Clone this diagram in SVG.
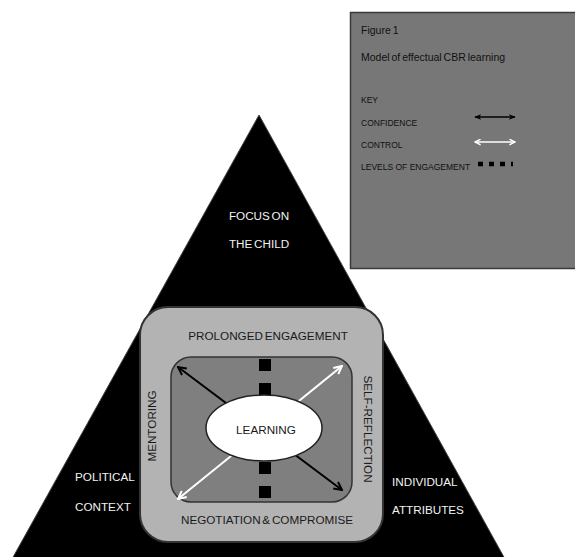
<svg xmlns="http://www.w3.org/2000/svg" width="575" height="557" viewBox="0 0 575 557">
<style>
text{font-family:"Liberation Sans",Arial,sans-serif}
.wt{fill:#f2f2f2;font-size:11.7px;word-spacing:-1.5px}
.dk{fill:#1a1a1a;font-size:11.7px;word-spacing:-1.5px}
.lg{fill:#111;font-size:8.5px}
.lt{fill:#111;font-size:10.5px;word-spacing:-1px}
.blk{stroke:#000;stroke-width:2;fill:none}
.wht{stroke:#fff;stroke-width:2;fill:none}
</style>
<defs>
<marker id="ab" viewBox="0 0 10 10" refX="9" refY="5" markerWidth="10" markerHeight="10" markerUnits="userSpaceOnUse" orient="auto-start-reverse">
<path d="M1,1 L9,5 L1,9" fill="none" stroke="#000" stroke-width="2"/>
</marker>
<marker id="aw" viewBox="0 0 10 10" refX="9" refY="5" markerWidth="10" markerHeight="10" markerUnits="userSpaceOnUse" orient="auto-start-reverse">
<path d="M1,1 L9,5 L1,9" fill="none" stroke="#fff" stroke-width="2"/>
</marker>
<marker id="sb" viewBox="0 0 10 10" refX="9" refY="5" markerWidth="7" markerHeight="7" markerUnits="userSpaceOnUse" orient="auto-start-reverse">
<path d="M0,1 L10,5 L0,9 L3,5 Z" fill="#000"/>
</marker>
<marker id="sw" viewBox="0 0 10 10" refX="9" refY="5" markerWidth="7" markerHeight="7" markerUnits="userSpaceOnUse" orient="auto-start-reverse">
<path d="M1,1 L9,5 L1,9" fill="none" stroke="#fff" stroke-width="2"/>
</marker>
</defs>
<rect width="575" height="557" fill="#fff"/>
<g id="legend">
<rect x="350.5" y="12.5" width="230" height="256" fill="#777" stroke="#3a3a3a" stroke-width="1.5"/>
<text class="lt" x="361" y="34">Figure 1</text>
<text class="lt" x="361" y="61">Model of effectual CBR learning</text>
<text class="lg" x="361" y="103">KEY</text>
<text class="lg" x="361" y="126">CONFIDENCE</text>
<text class="lg" x="361" y="148">CONTROL</text>
<text class="lg" x="361" y="170">LEVELS  OF ENGAGEMENT</text>
<line x1="475" y1="117" x2="515" y2="117" stroke="#000" stroke-width="1.5" marker-start="url(#sb)" marker-end="url(#sb)"/>
<line x1="475" y1="142" x2="515" y2="142" stroke="#fff" stroke-width="1.5" marker-start="url(#sw)" marker-end="url(#sw)"/>
<line x1="478" y1="164" x2="513" y2="164" stroke="#000" stroke-width="4.5" stroke-dasharray="5 6"/>
</g>
<g id="triangle">
<polygon points="259,115 12,559 505,559" fill="#000" stroke="#444" stroke-width="1"/>
<text class="wt" x="259" y="220" text-anchor="middle">FOCUS ON</text>
<text class="wt" x="259" y="248" text-anchor="middle">THE CHILD</text>
<text class="wt" x="75" y="481">POLITICAL</text>
<text class="wt" x="75" y="511">CONTEXT</text>
<text class="wt" x="392" y="486">INDIVIDUAL</text>
<text class="wt" x="392" y="514">ATTRIBUTES</text>
</g>
<g id="outer-box">
<rect x="140" y="307" width="243" height="235" rx="28" ry="28" fill="#b3b3b3" stroke="#333" stroke-width="2"/>
<text class="dk" x="268" y="340" text-anchor="middle">PROLONGED ENGAGEMENT</text>
<text class="dk" x="267" y="524" text-anchor="middle">NEGOTIATION &amp; COMPROMISE</text>
<text class="dk" transform="translate(156,426) rotate(-90)" text-anchor="middle">MENTORING</text>
<text class="dk" transform="translate(364,429) rotate(90)" text-anchor="middle">SELF-REFLECTION</text>
</g>
<g id="inner-box">
<rect x="171" y="357" width="181" height="145" rx="20" ry="20" fill="#7f7f7f" stroke="#333" stroke-width="1.5"/>
</g>
<g id="connectors">
<rect x="259" y="359" width="12" height="12" fill="#000"/>
<rect x="259" y="383" width="12" height="12" fill="#000"/>
<rect x="259" y="462" width="12" height="12" fill="#000"/>
<rect x="259" y="486" width="12" height="12" fill="#000"/>
<line class="blk" x1="178" y1="367" x2="342" y2="490" marker-start="url(#ab)" marker-end="url(#ab)"/>
<line class="wht" x1="178" y1="499" x2="342" y2="366" marker-start="url(#aw)" marker-end="url(#aw)"/>
</g>
<g id="learning">
<ellipse cx="264" cy="428" rx="58" ry="33" fill="#fff" stroke="#222" stroke-width="1.5"/>
<text class="dk" x="266" y="434" text-anchor="middle">LEARNING</text>
</g>
</svg>
